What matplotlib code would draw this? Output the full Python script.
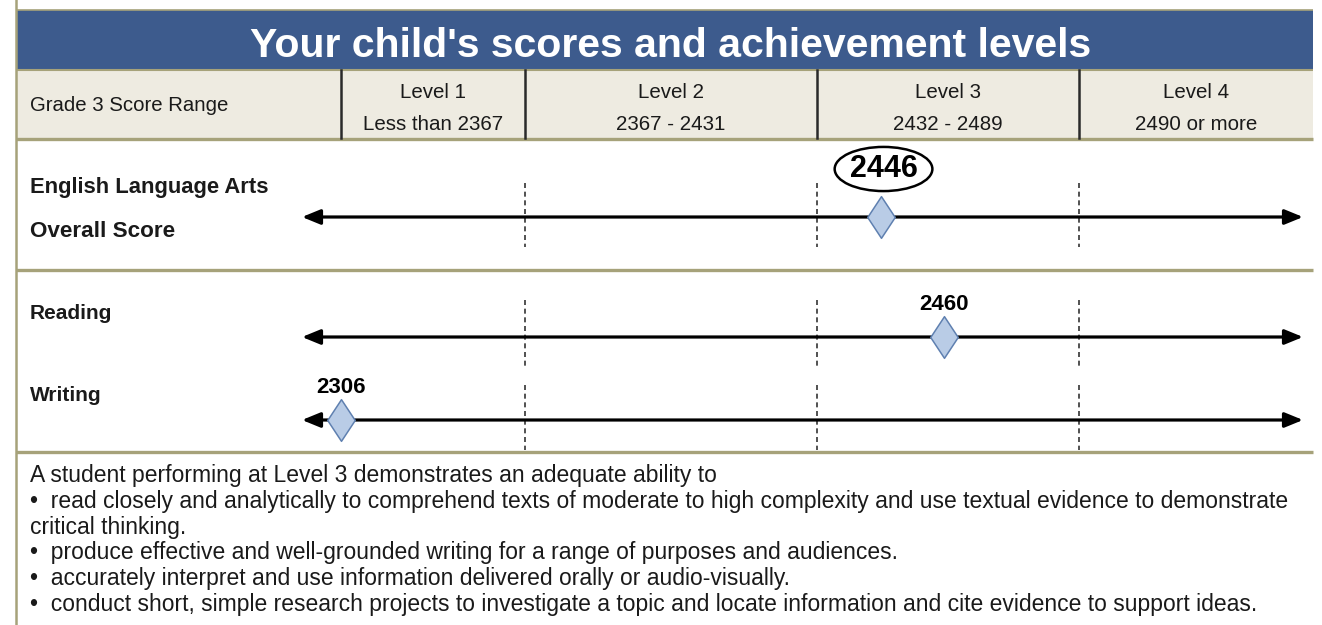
import numpy as np
import matplotlib
matplotlib.use("Agg")
import matplotlib.pyplot as plt
from matplotlib.patches import Rectangle
from matplotlib.path import Path

plt.rcParams['font.family'] = ['Liberation Sans', 'DejaVu Sans']

# ---------------- data ----------------
title = "Your child's scores and achievement levels"
range_label = "Grade 3 Score Range"
level_names = ["Level 1", "Level 2", "Level 3", "Level 4"]
level_ranges = ["Less than 2367", "2367 - 2431", "2432 - 2489", "2490 or more"]
cut_scores = [2367, 2432, 2490]
subjects = ["English Language Arts\nOverall Score", "Reading", "Writing"]
scores = [2446, 2460, 2306]
description = [
    "A student performing at Level 3 demonstrates an adequate ability to",
    "\u2022  read closely and analytically to comprehend texts of moderate to high complexity and use textual evidence to demonstrate",
    "critical thinking.",
    "\u2022  produce effective and well-grounded writing for a range of purposes and audiences.",
    "\u2022  accurately interpret and use information delivered orally or audio-visually.",
    "\u2022  conduct short, simple research projects to investigate a topic and locate information and cite evidence to support ideas.",
]

# ---------------- style ----------------
BLUE = '#3D5B8D'
BEIGE = '#EEEBE1'
OLIVE = '#A6A27A'
DIAMOND_FC = '#B9CCE6'
DIAMOND_EC = '#5F80B0'
TXT = '#1A1A1A'

W, H = 1322, 625
fig = plt.figure(figsize=(W / 100, H / 100), dpi=100)
fig.patch.set_facecolor('white')

# background / layout axes in pixel units
ax = fig.add_axes([0, 0, 1, 1])
ax.set_xlim(0, W)
ax.set_ylim(H, 0)
ax.axis('off')

LEFT, RIGHT = 16, 1313
ax.add_patch(Rectangle((LEFT, 10), RIGHT - LEFT, 59, fc=BLUE, ec='none', zorder=1))
ax.add_patch(Rectangle((LEFT, 69), RIGHT - LEFT, 70, fc=BEIGE, ec='none', zorder=1))
ax.plot([LEFT, RIGHT], [10, 10], color=OLIVE, lw=1.2, zorder=2, solid_capstyle='butt')
ax.plot([LEFT, RIGHT], [69.5, 69.5], color=OLIVE, lw=1.5, zorder=2, solid_capstyle='butt')
for yb in (139, 270, 452):
    ax.plot([LEFT, RIGHT], [yb, yb], color=OLIVE, lw=2.4, zorder=2, solid_capstyle='butt')
ax.plot([LEFT, LEFT], [0, H], color=OLIVE, lw=1.8, zorder=2)

ax.text(671, 57, title, color='white', fontsize=29.5, fontweight='bold',
        ha='center', va='baseline', zorder=3)
ax.text(30, 111, range_label, fontsize=14.7, color=TXT, ha='left', va='baseline', zorder=3)

# ---------------- score scale axes ----------------
X0, X1 = 302, 1303
sc = fig.add_axes([X0 / W, 0, (X1 - X0) / W, 1])
sc.patch.set_alpha(0)
k_low = 0.67  # compressed scale below Level 2


def fwd(s):
    s = np.asarray(s, dtype=float)
    return np.where(s < cut_scores[0], (s - cut_scores[0]) * k_low, s - cut_scores[0])


def inv(p):
    p = np.asarray(p, dtype=float)
    return np.where(p < 0, p / k_low + cut_scores[0], p + cut_scores[0])


sc.set_xscale('function', functions=(fwd, inv))
sc.set_xlim(2293.2, 2539.8)
sc.set_ylim(H, 0)
sc.axis('off')


def px(score):
    return sc.transData.transform((score, 0))[0]


# header column boundaries
bounds = [341] + [px(c) for c in cut_scores] + [RIGHT]
for xb in bounds[:-1]:
    ax.plot([xb, xb], [70, 138], color='#2A2A2A', lw=1.8, zorder=3)
for i, (nm, rg) in enumerate(zip(level_names, level_ranges)):
    cx = (bounds[i] + bounds[i + 1]) / 2
    ax.text(cx, 98, nm, fontsize=14.8, color=TXT, ha='center', va='baseline', zorder=3)
    ax.text(cx, 130, rg, fontsize=14.8, color=TXT, ha='center', va='baseline', zorder=3)

# rows
row_y = [217, 337, 420]
dash_spans = [(183, 247), (300, 368), (385, 450)]
label_off = [48, 34, 34]

diamond = Path([(0, 0.5), (0.33, 0), (0, -0.5), (-0.33, 0), (0, 0.5)],
               [Path.MOVETO, Path.LINETO, Path.LINETO, Path.LINETO, Path.CLOSEPOLY])

xmin, xmax = sc.get_xlim()
for i, (y, sp) in enumerate(zip(row_y, dash_spans)):
    sc.vlines(cut_scores, sp[0], sp[1], colors='#333333', linestyles=(0, (3, 2.2)),
              lw=1.2, zorder=2)
    sc.annotate('', xy=(xmax, y), xytext=(xmin, y),
                arrowprops=dict(arrowstyle='<|-|>,head_length=1.1,head_width=0.45',
                                mutation_scale=10, color='black', lw=2.3,
                                shrinkA=0, shrinkB=0),
                zorder=3, annotation_clip=False)
    sc.plot([scores[i]], [y], marker=diamond, markersize=30, markerfacecolor=DIAMOND_FC,
            markeredgecolor=DIAMOND_EC, markeredgewidth=1.1, linestyle='none', zorder=5,
            clip_on=False)

# score labels
sc.annotate(str(scores[0]), xy=(scores[0], row_y[0]), xytext=(3, label_off[0]),
            textcoords='offset pixels', ha='center', va='center', fontsize=22,
            fontweight='bold', color='black', zorder=6, annotation_clip=False,
            bbox=dict(boxstyle='ellipse,pad=0.02', fc='white', ec='black', lw=1.8))
for i in (1, 2):
    sc.annotate(str(scores[i]), xy=(scores[i], row_y[i]), xytext=(0, label_off[i] - 7),
                textcoords='offset pixels', ha='center', va='baseline', fontsize=16,
                fontweight='bold', color='black', zorder=6, annotation_clip=False)

# subject labels
ela, overall = subjects[0].split('\n')
ax.text(30, 193, ela, fontsize=15.8, fontweight='bold', color=TXT, ha='left', va='baseline', zorder=3)
ax.text(30, 237, overall, fontsize=16.2, fontweight='bold', color=TXT, ha='left', va='baseline', zorder=3)
ax.text(30, 319, subjects[1], fontsize=15, fontweight='bold', color=TXT, ha='left', va='baseline', zorder=3)
ax.text(30, 401, subjects[2], fontsize=15, fontweight='bold', color=TXT, ha='left', va='baseline', zorder=3)

# description text
base = [482, 508, 534, 559, 585, 611]
for t, yb in zip(description, base):
    ax.text(30, yb, t, fontsize=16.5, color=TXT, ha='left', va='baseline', zorder=3)

fig.savefig('out.png', dpi=100)
